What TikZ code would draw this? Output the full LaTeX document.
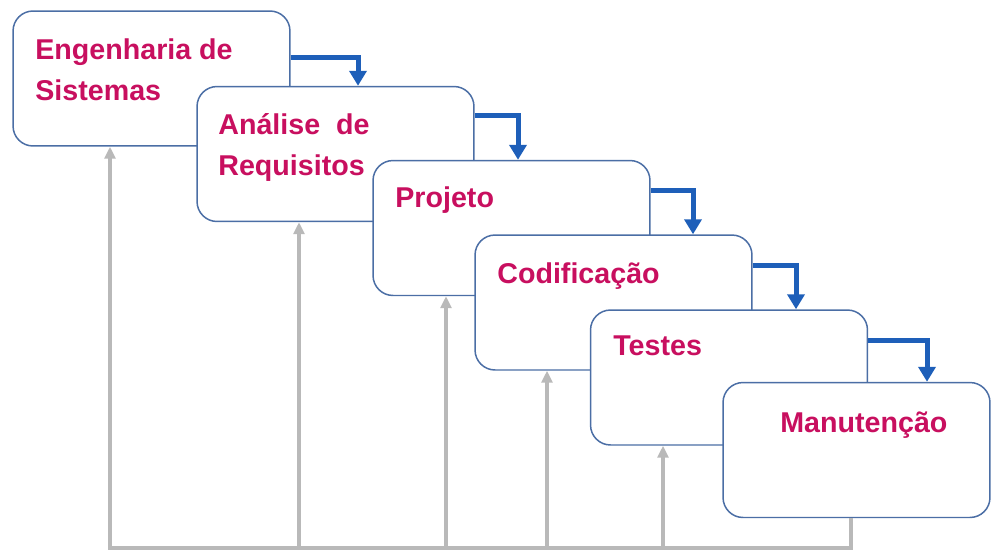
\documentclass[tikz,border=0pt]{standalone}
\usepackage{fontspec}
\setmainfont{Liberation Sans}
\usetikzlibrary{arrows.meta}
\definecolor{stageline}{RGB}{75,110,165}
\definecolor{stagetext}{RGB}{200,15,95}
\definecolor{flowblue}{RGB}{30,95,185}
\definecolor{backgray}{RGB}{185,185,185}
\tikzstyle{stage} = [draw=stageline, line width=0.85pt, fill=white, rectangle,
    rounded corners=0.4cm, minimum width=5.54cm, minimum height=2.7cm, inner sep=0pt]
\tikzstyle{stagename} = [text=stagetext, font=\bfseries\fontsize{16.3}{22.8}\selectfont,
    anchor=base west, align=left, inner sep=0pt]
\tikzstyle{flow} = [draw=flowblue, line width=2.85pt, -{Triangle[length=0.3cm,width=0.34cm]}]
\tikzstyle{back} = [draw=backgray, line width=2.2pt]
\tikzstyle{backup} = [back, -{Triangle[length=0.24cm,width=0.22cm]}]

\begin{document}
\begin{tikzpicture}[x=0.02cm, y=-0.02cm]
    \useasboundingbox (0,0) rectangle (993,552);
    % % % % % % % % % % % % % % % % % % % % % % %
    % Stages
    % % % % % % % % % % % % % % % % % % % % % % %
    \node [stage] (eng) at (151.5,78.5) {};
    \node [stagename] (engtxt) at (35,100) {Engenharia de\\Sistemas};

    \node [stage] (ana) at (335.5,154) {};
    \node [stagename] (anatxt) at (218,175) {Análise~ de\\Requisitos};

    \node [stage] (proj) at (511.5,228) {};
    \node [stagename] (projtxt) at (395,207) {Projeto};

    \node [stage] (cod) at (613.5,302.5) {};
    \node [stagename] (codtxt) at (497,283) {Codificação};

    \node [stage] (test) at (729,377.5) {};
    \node [stagename] (testtxt) at (613,355) {Testes};

    \node [stage, minimum width=5.34cm] (man) at (856.5,450) {};
    \node [stagename] (mantxt) at (780,432) {Manutenção};

    % Turning points of the blue arrows
    \coordinate (t1) at (358,57);
    \coordinate (t2) at (518,115);
    \coordinate (t3) at (693,190);
    \coordinate (t4) at (796,265);
    \coordinate (t5) at (927,340);

    \draw [flow] (eng.east |- t1) -| (t1 |- ana.north);
    \draw [flow] (ana.east |- t2) -| (t2 |- proj.north);
    \draw [flow] (proj.east |- t3) -| (t3 |- cod.north);
    \draw [flow] (cod.east |- t4) -| (t4 |- test.north);
    \draw [flow] (test.east |- t5) -| (t5 |- man.north);

    % % % % % % % % % % % % % % % % % % % % % % %
    % Feedback lines
    % % % % % % % % % % % % % % % % % % % % % % %
    \coordinate (f1) at (110,548);
    \coordinate (f2) at (299,548);
    \coordinate (f3) at (446,548);
    \coordinate (f4) at (547,548);
    \coordinate (f5) at (663,548);
    \coordinate (f6) at (851,548);

    \draw [backup] (f6 |- man.south) -- (f6) -- (f1) -- (f1 |- eng.south);
    \draw [backup] (f2) -- (f2 |- ana.south);
    \draw [backup] (f3) -- (f3 |- proj.south);
    \draw [backup] (f4) -- (f4 |- cod.south);
    \draw [backup] (f5) -- (f5 |- test.south);

\end{tikzpicture}
\end{document}
